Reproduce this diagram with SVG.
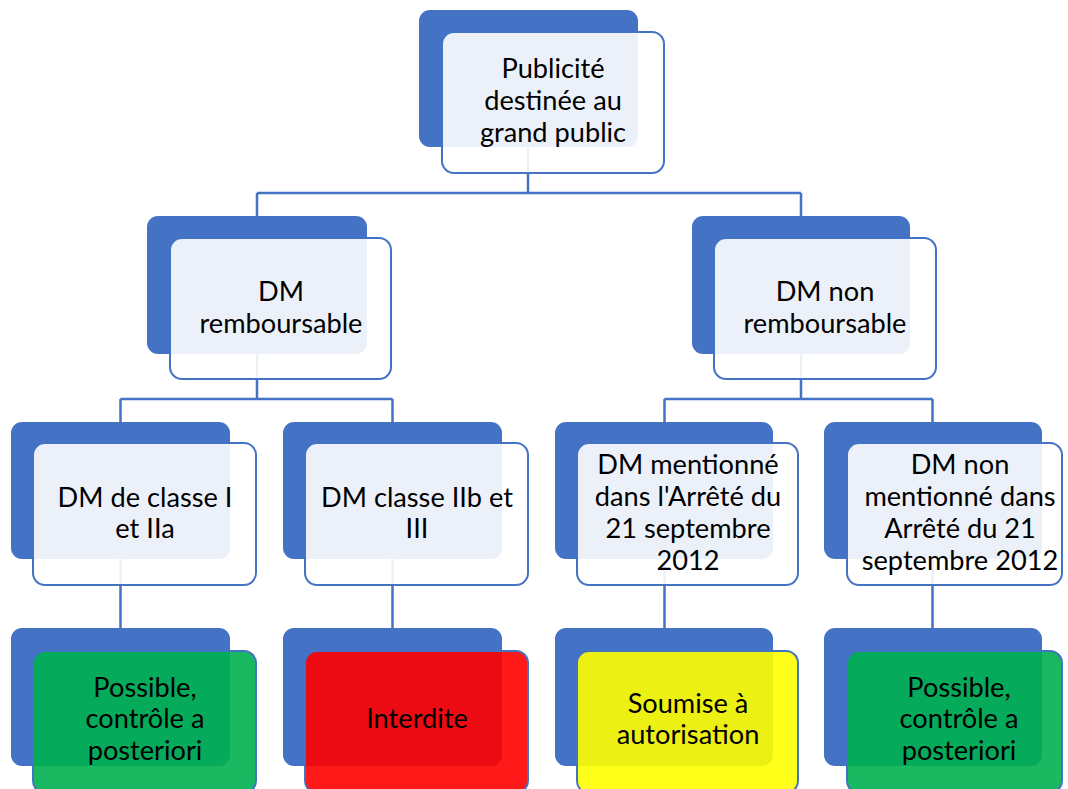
<svg xmlns="http://www.w3.org/2000/svg" width="1068" height="789" viewBox="0 0 1068 789">
<style>
.back{fill:#4472C4;}
.front{stroke:#4472C4;stroke-width:2;fill-opacity:0.9;}
.w{fill:#FFFFFF;}
.g{fill:#00B050;}
.r{fill:#FF0000;}
.y{fill:#FFFF00;}
.conn{stroke:#4472C4;stroke-width:2.5;fill:none;}
text{font-family:"Lato","Open Sans","Liberation Sans",sans-serif;font-size:27.2px;fill:#000;text-anchor:middle;}
</style>
<rect width="1068" height="789" fill="#FFFFFF"/>
<g id="connectors">
<path class="conn" d="M528,147 V193 M257,193 H801 M257,193 V216 M801,193 V216"/>
<path class="conn" d="M257,354 V399 M120.5,399 H392.5 M120.5,399 V422 M392.5,399 V422"/>
<path class="conn" d="M801,354 V399 M664.5,399 H932.5 M664.5,399 V422 M932.5,399 V422"/>
<path class="conn" d="M120.5,559 V628 M392.5,559 V628 M664.5,559 V628 M932.5,559 V628"/>
</g>
<g id="n-top">
<rect class="back" x="419" y="10" width="219" height="137" rx="11"/>
<rect class="front w" x="442" y="32" width="222" height="141" rx="12"/>
<text x="553" y="78">Publicité</text>
<text x="553" y="110">destinée au</text>
<text x="553" y="142">grand public</text>
</g>
<g id="n-remb">
<rect class="back" x="147" y="216" width="220" height="138" rx="11"/>
<rect class="front w" x="170" y="238" width="221" height="141" rx="12"/>
<text x="281" y="301">DM</text>
<text x="281" y="333">remboursable</text>
</g>
<g id="n-nonremb">
<rect class="back" x="692" y="216" width="218" height="138" rx="11"/>
<rect class="front w" x="714" y="238" width="222" height="141" rx="12"/>
<text x="825" y="301">DM non</text>
<text x="825" y="333">remboursable</text>
</g>
<g id="n-classe1">
<rect class="back" x="11" y="422" width="219" height="137" rx="11"/>
<rect class="front w" x="33" y="443" width="223" height="142" rx="12"/>
<text x="145" y="507">DM de classe I</text>
<text x="145" y="538">et IIa</text>
</g>
<g id="n-classe2">
<rect class="back" x="283" y="422" width="219" height="137" rx="11"/>
<rect class="front w" x="305" y="443" width="223" height="142" rx="12"/>
<text x="417" y="507">DM classe IIb et</text>
<text x="417" y="538">III</text>
</g>
<g id="n-mentionne">
<rect class="back" x="555" y="422" width="218" height="137" rx="11"/>
<rect class="front w" x="577" y="443" width="221" height="142" rx="12"/>
<text x="688" y="474">DM mentionné</text>
<text x="688" y="506">dans l'Arrêté du</text>
<text x="688" y="538">21 septembre</text>
<text x="688" y="570">2012</text>
</g>
<g id="n-nonmentionne">
<rect class="back" x="824" y="422" width="218" height="137" rx="11"/>
<rect class="front w" x="847" y="443" width="215" height="142" rx="12"/>
<text x="960" y="474">DM non</text>
<text x="960" y="506">mentionné dans</text>
<text x="960" y="538">Arrêté du 21</text>
<text x="960" y="570">septembre 2012</text>
</g>
<g id="n-possible1">
<rect class="back" x="11" y="628" width="219" height="138" rx="11"/>
<rect class="front g" x="33" y="651" width="223" height="142" rx="12"/>
<text x="145" y="697">Possible,</text>
<text x="145" y="728">contrôle a</text>
<text x="145" y="760">posteriori</text>
</g>
<g id="n-interdite">
<rect class="back" x="283" y="628" width="219" height="138" rx="11"/>
<rect class="front r" x="305" y="651" width="223" height="142" rx="12"/>
<text x="417" y="728">Interdite</text>
</g>
<g id="n-soumise">
<rect class="back" x="555" y="628" width="218" height="138" rx="11"/>
<rect class="front y" x="577" y="651" width="221" height="142" rx="12"/>
<text x="688" y="713">Soumise à</text>
<text x="688" y="744">autorisation</text>
</g>
<g id="n-possible2">
<rect class="back" x="824" y="628" width="218" height="138" rx="11"/>
<rect class="front g" x="847" y="651" width="215" height="142" rx="12"/>
<text x="959" y="697">Possible,</text>
<text x="959" y="728">contrôle a</text>
<text x="959" y="760">posteriori</text>
</g>
</svg>
